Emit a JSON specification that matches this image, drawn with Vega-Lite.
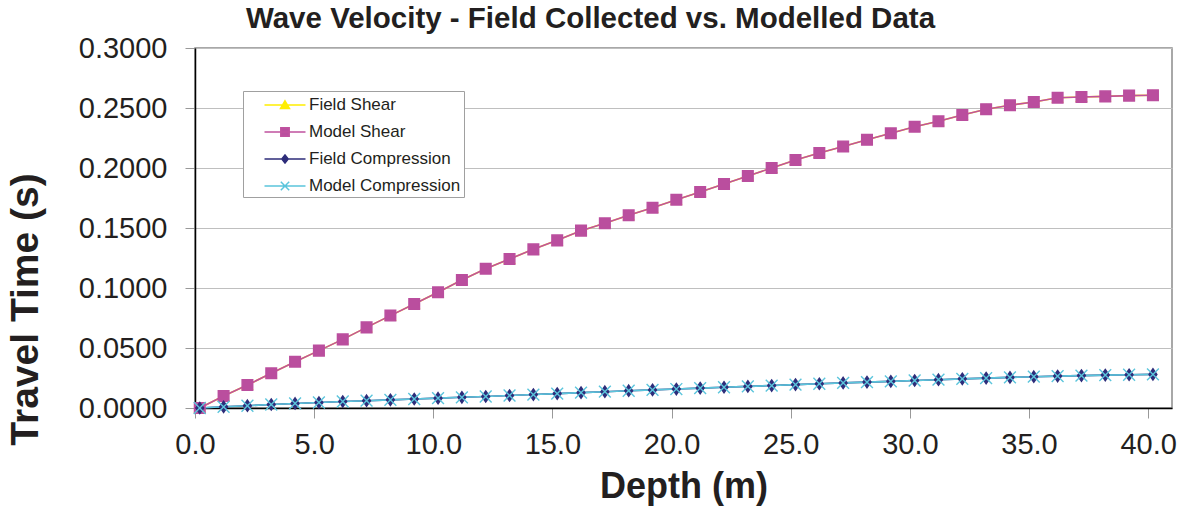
{
  "$schema": "https://vega.github.io/schema/vega-lite/v6.json",
  "width": 977,
  "height": 360,
  "autosize": {"type": "none"},
  "padding": {"left": 195, "top": 48, "right": 7, "bottom": 100},
  "background": "white",
  "title": {
    "text": "Wave Velocity - Field Collected vs. Modelled Data",
    "anchor": "middle",
    "frame": "group",
    "dx": -93,
    "dy": 27,
    "offset": 4,
    "baseline": "alphabetic",
    "font": "Liberation Sans",
    "fontSize": 29.5,
    "fontWeight": "bold",
    "color": "#231F20"
  },
  "data": {
    "values": [
      {"depth": 0.2, "Field Shear": 0.0000, "Model Shear": 0.0000, "Field Compression": 0.0000, "Model Compression": 0.0000},
      {"depth": 1.2, "Field Shear": 0.0100, "Model Shear": 0.0100, "Field Compression": 0.0010, "Model Compression": 0.0010},
      {"depth": 2.2, "Field Shear": 0.0192, "Model Shear": 0.0192, "Field Compression": 0.0019, "Model Compression": 0.0019},
      {"depth": 3.2, "Field Shear": 0.0289, "Model Shear": 0.0289, "Field Compression": 0.0029, "Model Compression": 0.0029},
      {"depth": 4.2, "Field Shear": 0.0386, "Model Shear": 0.0386, "Field Compression": 0.0038, "Model Compression": 0.0038},
      {"depth": 5.2, "Field Shear": 0.0478, "Model Shear": 0.0478, "Field Compression": 0.0046, "Model Compression": 0.0046},
      {"depth": 6.2, "Field Shear": 0.0572, "Model Shear": 0.0572, "Field Compression": 0.0054, "Model Compression": 0.0054},
      {"depth": 7.2, "Field Shear": 0.0672, "Model Shear": 0.0672, "Field Compression": 0.0061, "Model Compression": 0.0061},
      {"depth": 8.2, "Field Shear": 0.0770, "Model Shear": 0.0770, "Field Compression": 0.0068, "Model Compression": 0.0068},
      {"depth": 9.2, "Field Shear": 0.0867, "Model Shear": 0.0867, "Field Compression": 0.0075, "Model Compression": 0.0075},
      {"depth": 10.2, "Field Shear": 0.0964, "Model Shear": 0.0964, "Field Compression": 0.0082, "Model Compression": 0.0082},
      {"depth": 11.2, "Field Shear": 0.1067, "Model Shear": 0.1067, "Field Compression": 0.0089, "Model Compression": 0.0089},
      {"depth": 12.2, "Field Shear": 0.1161, "Model Shear": 0.1161, "Field Compression": 0.0096, "Model Compression": 0.0096},
      {"depth": 13.2, "Field Shear": 0.1242, "Model Shear": 0.1242, "Field Compression": 0.0104, "Model Compression": 0.0104},
      {"depth": 14.2, "Field Shear": 0.1322, "Model Shear": 0.1322, "Field Compression": 0.0112, "Model Compression": 0.0112},
      {"depth": 15.2, "Field Shear": 0.1397, "Model Shear": 0.1397, "Field Compression": 0.0120, "Model Compression": 0.0120},
      {"depth": 16.2, "Field Shear": 0.1478, "Model Shear": 0.1478, "Field Compression": 0.0128, "Model Compression": 0.0128},
      {"depth": 17.2, "Field Shear": 0.1539, "Model Shear": 0.1539, "Field Compression": 0.0136, "Model Compression": 0.0136},
      {"depth": 18.2, "Field Shear": 0.1606, "Model Shear": 0.1606, "Field Compression": 0.0144, "Model Compression": 0.0144},
      {"depth": 19.2, "Field Shear": 0.1669, "Model Shear": 0.1669, "Field Compression": 0.0151, "Model Compression": 0.0151},
      {"depth": 20.2, "Field Shear": 0.1736, "Model Shear": 0.1736, "Field Compression": 0.0158, "Model Compression": 0.0158},
      {"depth": 21.2, "Field Shear": 0.1800, "Model Shear": 0.1800, "Field Compression": 0.0166, "Model Compression": 0.0166},
      {"depth": 22.2, "Field Shear": 0.1867, "Model Shear": 0.1867, "Field Compression": 0.0173, "Model Compression": 0.0173},
      {"depth": 23.2, "Field Shear": 0.1933, "Model Shear": 0.1933, "Field Compression": 0.0180, "Model Compression": 0.0180},
      {"depth": 24.2, "Field Shear": 0.2000, "Model Shear": 0.2000, "Field Compression": 0.0187, "Model Compression": 0.0187},
      {"depth": 25.2, "Field Shear": 0.2067, "Model Shear": 0.2067, "Field Compression": 0.0195, "Model Compression": 0.0195},
      {"depth": 26.2, "Field Shear": 0.2125, "Model Shear": 0.2125, "Field Compression": 0.0202, "Model Compression": 0.0202},
      {"depth": 27.2, "Field Shear": 0.2180, "Model Shear": 0.2180, "Field Compression": 0.0209, "Model Compression": 0.0209},
      {"depth": 28.2, "Field Shear": 0.2235, "Model Shear": 0.2235, "Field Compression": 0.0216, "Model Compression": 0.0216},
      {"depth": 29.2, "Field Shear": 0.2289, "Model Shear": 0.2289, "Field Compression": 0.0222, "Model Compression": 0.0222},
      {"depth": 30.2, "Field Shear": 0.2344, "Model Shear": 0.2344, "Field Compression": 0.0229, "Model Compression": 0.0229},
      {"depth": 31.2, "Field Shear": 0.2389, "Model Shear": 0.2389, "Field Compression": 0.0236, "Model Compression": 0.0236},
      {"depth": 32.2, "Field Shear": 0.2442, "Model Shear": 0.2442, "Field Compression": 0.0243, "Model Compression": 0.0243},
      {"depth": 33.2, "Field Shear": 0.2490, "Model Shear": 0.2490, "Field Compression": 0.0249, "Model Compression": 0.0249},
      {"depth": 34.2, "Field Shear": 0.2523, "Model Shear": 0.2523, "Field Compression": 0.0255, "Model Compression": 0.0255},
      {"depth": 35.2, "Field Shear": 0.2550, "Model Shear": 0.2550, "Field Compression": 0.0261, "Model Compression": 0.0261},
      {"depth": 36.2, "Field Shear": 0.2586, "Model Shear": 0.2586, "Field Compression": 0.0266, "Model Compression": 0.0266},
      {"depth": 37.2, "Field Shear": 0.2592, "Model Shear": 0.2592, "Field Compression": 0.0270, "Model Compression": 0.0270},
      {"depth": 38.2, "Field Shear": 0.2597, "Model Shear": 0.2597, "Field Compression": 0.0274, "Model Compression": 0.0274},
      {"depth": 39.2, "Field Shear": 0.2603, "Model Shear": 0.2603, "Field Compression": 0.0277, "Model Compression": 0.0277},
      {"depth": 40.2, "Field Shear": 0.2606, "Model Shear": 0.2606, "Field Compression": 0.0280, "Model Compression": 0.0280}
    ]
  },
  "transform": [
    {"fold": ["Field Shear", "Model Shear", "Field Compression", "Model Compression"], "as": ["series", "time"]}
  ],
  "encoding": {
    "x": {
      "field": "depth",
      "type": "quantitative",
      "scale": {"domain": [0, 41], "nice": false, "zero": false},
      "axis": {
        "title": "Depth (m)",
        "values": [0, 5, 10, 15, 20, 25, 30, 35, 40],
        "format": ".1f",
        "grid": false,
        "labelFlush": false,
        "labelOverlap": false,
        "domainColor": "#000000",
        "domainWidth": 1.5,
        "tickColor": "#999999",
        "tickSize": 10,
        "labelPadding": 12,
        "labelFontSize": 29,
        "labelColor": "#231F20",
        "titleFontSize": 36,
        "titleFontWeight": "bold",
        "titleColor": "#231F20",
        "titleBaseline": "alphabetic",
        "titleY": 89
      }
    },
    "y": {
      "field": "time",
      "type": "quantitative",
      "scale": {"domain": [0, 0.3], "nice": false},
      "axis": {
        "title": "Travel Time (s)",
        "values": [0, 0.05, 0.1, 0.15, 0.2, 0.25, 0.3],
        "format": ".4f",
        "grid": true,
        "labelFlush": false,
        "labelOverlap": false,
        "gridColor": "#BFBFBF",
        "gridWidth": 1,
        "domainColor": "#000000",
        "domainWidth": 1.5,
        "tickColor": "#999999",
        "tickSize": 10,
        "labelPadding": 18,
        "labelFontSize": 29,
        "labelColor": "#231F20",
        "titleFontSize": 39,
        "titleFontWeight": "bold",
        "titleColor": "#231F20",
        "titleAngle": -90,
        "titleAlign": "center",
        "titleBaseline": "alphabetic",
        "titleX": -158,
        "titleY": 261
      }
    }
  },
  "layer": [
    {
      "mark": {"type": "line", "strokeWidth": 1.6},
      "encoding": {
        "stroke": {
          "field": "series",
          "type": "nominal",
          "scale": {
            "domain": ["Field Shear", "Model Shear", "Field Compression", "Model Compression"],
            "range": ["#FFEE00", "#C0529F", "#2E2D7A", "#5BC5DC"]
          },
          "legend": null
        }
      }
    },
    {
      "mark": {"type": "point", "opacity": 1, "strokeWidth": 1.4},
      "encoding": {
        "shape": {
          "field": "series",
          "type": "nominal",
          "scale": {
            "domain": ["Field Shear", "Model Shear", "Field Compression", "Model Compression"],
            "range": ["triangle-up", "square", "M0,-1L0.7,0L0,1L-0.7,0Z", "M-1,-1L1,1M-1,1L1,-1"]
          },
          "legend": null
        },
        "size": {
          "field": "series",
          "type": "nominal",
          "scale": {
            "domain": ["Field Shear", "Model Shear", "Field Compression", "Model Compression"],
            "range": [100, 140, 81, 110]
          },
          "legend": null
        },
        "fill": {
          "field": "series",
          "type": "nominal",
          "scale": {
            "domain": ["Field Shear", "Model Shear", "Field Compression", "Model Compression"],
            "range": ["#FFEE00", "#BA4E9E", "#2E2D7A", "#5BC5DC"]
          },
          "legend": null
        },
        "stroke": {
          "field": "series",
          "type": "nominal",
          "scale": {
            "domain": ["Field Shear", "Model Shear", "Field Compression", "Model Compression"],
            "range": ["#FFEE00", "#BA4E9E", "#2E2D7A", "#5BC5DC"]
          },
          "legend": null
        }
      }
    },
    {
      "mark": {"type": "point", "opacity": 0, "size": 400, "strokeWidth": 1.5},
      "encoding": {
        "shape": {
          "field": "series",
          "type": "nominal",
          "scale": {
            "domain": ["Field Shear", "Model Shear", "Field Compression", "Model Compression"],
            "range": [
              "M-2.05,0L2.05,0M0,-0.42L0.45,0.36L-0.45,0.36Z",
              "M-2.05,0L2.05,0M-0.42,-0.42L0.42,-0.42L0.42,0.42L-0.42,0.42Z",
              "M-2.05,0L2.05,0M0,-0.4L0.32,0L0,0.4L-0.32,0Z",
              "M-2.05,0L2.05,0M-0.42,-0.42L0.42,0.42M-0.42,0.42L0.42,-0.42"
            ]
          },
          "legend": {
            "title": null,
            "orient": "none",
            "legendX": 48,
            "legendY": 43,
            "padding": 3,
            "fillColor": "#FFFFFF",
            "strokeColor": "#A0A0A0",
            "symbolSize": 400,
            "symbolOpacity": 1,
            "symbolStrokeWidth": 1.5,
            "symbolOffset": 28,
            "labelFont": "Liberation Sans",
            "labelFontSize": 17,
            "labelColor": "#231F20",
            "labelOffset": 13,
            "labelExpr": "datum.label + '\u00a0\u00a0\u00a0\u00a0\u00a0'",
            "rowPadding": 8
          }
        },
        "fill": {
          "field": "series",
          "type": "nominal",
          "scale": {
            "domain": ["Field Shear", "Model Shear", "Field Compression", "Model Compression"],
            "range": ["#FFEE00", "#BA4E9E", "#2E2D7A", "#5BC5DC"]
          }
        },
        "stroke": {
          "field": "series",
          "type": "nominal",
          "scale": {
            "domain": ["Field Shear", "Model Shear", "Field Compression", "Model Compression"],
            "range": ["#FFEE00", "#C0529F", "#2E2D7A", "#5BC5DC"]
          }
        }
      }
    }
  ],
  "resolve": {
    "scale": {"shape": "independent", "fill": "independent", "stroke": "independent", "size": "independent"},
    "legend": {"shape": "independent", "fill": "independent", "stroke": "independent"}
  },
  "config": {
    "font": "Liberation Sans",
    "view": {"stroke": "#8C8C8C", "strokeWidth": 1.5},
    "axis": {"labelFont": "Liberation Sans", "titleFont": "Liberation Sans"}
  }
}
